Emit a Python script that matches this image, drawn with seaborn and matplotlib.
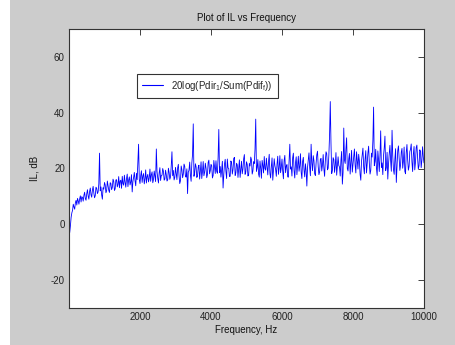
import numpy as np
import pandas as pd
import matplotlib
matplotlib.use("Agg")
import matplotlib.pyplot as plt
from matplotlib.patches import Rectangle
import seaborn as sns

# Frequency grid: 20 Hz steps up to 10 kHz
freq_step = 20
# IL values (dB), one per 20 Hz bin
il_db = [
    -3.0, -0.5, 2.5, 4.1, 5.0, 7.2, 6.2, 5.4, 7.8, 8.6, 6.9, 9.3, 8.4, 7.2, 9.1, 10.2, 8.0, 9.9, 9.6, 8.3,
    10.4, 11.5, 9.2, 8.6, 11.0, 12.4, 10.1, 9.0, 11.8, 13.0, 10.6, 9.7, 12.3, 13.6, 11.2, 9.5, 10.3, 13.3, 12.9, 11.0,
    11.6, 14.5, 25.5, 12.0, 13.4, 10.5, 9.0, 13.1, 12.6, 15.0, 14.1, 11.3, 12.0, 15.5, 13.8, 12.2, 11.4, 14.9, 14.6, 12.4,
    13.2, 16.2, 15.4, 12.1, 12.7, 15.9, 16.0, 13.4, 14.3, 17.1, 13.1, 15.5, 15.8, 12.9, 17.2, 14.6, 14.0, 17.6, 15.1, 13.3,
    16.4, 18.0, 13.5, 15.9, 17.0, 14.1, 15.2, 17.8, 11.6, 15.3, 16.8, 18.6, 15.6, 13.8, 18.3, 16.0, 22.0, 28.7, 16.1, 14.6,
    17.5, 19.2, 15.0, 17.3, 18.2, 14.5, 16.3, 19.5, 14.8, 17.0, 17.9, 15.2, 16.6, 19.8, 15.4, 17.7, 18.8, 14.9, 16.0, 19.1,
    17.2, 15.3, 27.0, 18.9, 16.5, 14.8, 18.4, 20.3, 15.7, 17.5, 17.6, 20.0, 19.0, 15.8, 16.2, 19.4, 17.8, 15.5, 15.9, 20.1,
    18.6, 16.1, 17.0, 21.0, 26.0, 17.4, 19.3, 15.9, 16.8, 20.4, 18.1, 16.0, 20.2, 21.5, 17.4, 14.6, 15.6, 20.9, 19.6, 16.7,
    18.0, 21.6, 20.8, 17.1, 16.9, 19.9, 11.0, 18.7, 19.4, 22.3, 17.7, 15.4, 22.0, 25.0, 36.0, 17.2, 18.5, 21.7, 20.6, 16.8,
    17.3, 20.5, 21.2, 16.2, 19.0, 22.4, 16.4, 18.9, 22.5, 17.4, 18.6, 21.9, 20.1, 16.7, 17.8, 22.2, 23.0, 18.1, 19.2, 21.5,
    21.0, 16.6, 17.5, 22.9, 20.4, 18.2, 22.8, 19.0, 18.3, 24.0, 34.0, 18.5, 20.7, 16.9, 19.5, 22.6, 13.0, 17.8, 21.6, 23.3,
    18.9, 16.4, 23.4, 20.2, 20.0, 17.1, 17.2, 22.7, 22.1, 18.0, 19.6, 23.6, 24.0, 17.5, 18.4, 21.9, 21.3, 16.8, 20.2, 23.1,
    16.8, 19.9, 22.6, 18.1, 19.8, 23.5, 25.0, 17.9, 18.7, 22.4, 21.5, 17.3, 17.6, 21.8, 20.9, 24.1, 23.2, 18.0, 19.1, 22.5,
    21.8, 27.0, 37.7, 19.0, 20.3, 23.2, 18.0, 16.9, 22.7, 20.1, 16.5, 22.9, 21.1, 18.4, 24.3, 20.0, 19.4, 23.7, 20.6, 17.7,
    22.4, 25.1, 18.2, 16.6, 20.8, 23.8, 15.8, 19.3, 23.5, 21.0, 19.7, 17.2, 21.6, 24.4, 17.9, 20.2, 24.6, 18.5, 20.3, 23.4,
    19.0, 16.3, 22.9, 24.7, 18.5, 20.9, 21.4, 17.0, 16.9, 23.0, 28.7, 19.8, 20.6, 17.3, 23.8, 25.5, 19.3, 16.6, 22.0, 24.2,
    17.8, 21.1, 24.4, 19.0, 20.9, 25.3, 18.6, 16.4, 22.5, 24.0, 19.5, 17.0, 21.7, 19.2, 13.7, 20.5, 23.1, 25.6, 20.4, 17.4,
    28.7, 22.0, 19.2, 24.6, 22.8, 18.1, 17.5, 21.9, 24.9, 26.2, 20.7, 17.8, 18.8, 23.3, 23.6, 19.1, 21.3, 25.0, 19.9, 17.2,
    22.6, 26.0, 25.3, 19.5, 20.1, 24.8, 32.0, 44.0, 29.0, 18.2, 19.4, 23.9, 23.2, 18.6, 21.0, 25.7, 17.6, 20.8, 24.2, 21.1,
    20.5, 17.3, 22.9, 26.1, 14.4, 18.5, 34.5, 23.0, 21.8, 26.8, 31.0, 20.0, 19.1, 23.4, 25.4, 18.0, 22.3, 26.5, 18.7, 21.4,
    23.9, 27.0, 21.2, 18.4, 26.0, 23.0, 19.8, 25.1, 22.7, 17.9, 15.8, 22.6, 24.8, 27.3, 20.6, 18.1, 23.3, 26.4, 18.4, 21.7,
    25.6, 28.0, 21.9, 18.0, 19.3, 25.5, 24.1, 30.0, 42.0, 21.0, 22.5, 26.9, 20.2, 17.5, 26.3, 23.1, 18.9, 24.6, 33.5, 20.4,
    22.0, 17.8, 24.7, 27.4, 31.6, 19.2, 20.4, 25.8, 16.2, 21.5, 25.2, 28.3, 22.8, 19.0, 33.7, 24.4, 19.6, 17.9, 23.5, 27.1,
    15.0, 20.9, 26.4, 28.1, 24.0, 19.3, 21.3, 25.9, 27.2, 20.1, 22.6, 27.7, 19.0, 18.1, 25.8, 28.6, 23.1, 19.4, 20.8, 26.0,
    26.9, 28.8, 22.4, 18.9, 25.1, 27.9, 19.5, 22.2, 27.5, 28.4, 23.7, 19.8, 21.0, 26.7, 26.2, 20.3, 22.9, 27.8, 24.1, 22.0,
]
freq_hz = [freq_step * (i + 1) for i in range(len(il_db))]

x_ticks = [2000, 4000, 6000, 8000, 10000]
y_ticks = [-20, 0, 20, 40, 60]
title = "Plot of IL vs Frequency"
xlabel = "Frequency, Hz"
ylabel = "IL, dB"
legend_label = r"20log(Pdir$_1$/Sum(Pdif$_\mathrm{f}$))"

df = pd.DataFrame({"freq": freq_hz, "il": il_db})

sns.set_style("white")
plt.rcParams["font.family"] = ["Liberation Sans", "DejaVu Sans"]
plt.rcParams["mathtext.fontset"] = "custom"
plt.rcParams["mathtext.rm"] = "Liberation Sans"

fig = plt.figure(figsize=(4.56, 3.45), dpi=100)
fig.patch.set_facecolor("#cccccc")
fig.patches.append(Rectangle((0, 0), 10 / 456, 1, transform=fig.transFigure,
                             facecolor="white", edgecolor="none", zorder=-1))

ax = fig.add_axes([69 / 456, 37 / 345, 355 / 456, 279 / 345])
ax.set_facecolor("white")

sns.lineplot(data=df, x="freq", y="il", ax=ax, color="#0000ff", linewidth=0.6,
             label=legend_label)

ax.set_xlim(0, 10000)
ax.set_ylim(-30, 70)
ax.set_xticks(x_ticks)
ax.set_yticks(y_ticks)
ax.set_xticklabels([str(t) for t in x_ticks])
ax.set_yticklabels([str(t) for t in y_ticks])
ax.tick_params(direction="in", length=4, width=0.6, top=True, right=True,
               labelsize=7, colors="#222222", pad=3)
for s in ax.spines.values():
    s.set_visible(True)
    s.set_color("#333333")
    s.set_linewidth(0.8)

ax.set_title(title, fontsize=7, pad=6, color="#111111")
ax.set_xlabel(xlabel, fontsize=7, labelpad=2, color="#111111")
ax.set_ylabel(ylabel, fontsize=7, labelpad=8, color="#111111")

leg = ax.legend(loc="upper left", bbox_to_anchor=(0.1915, 0.8387), fontsize=7,
                frameon=True, fancybox=False, borderpad=0.5, handlelength=2.2,
                borderaxespad=0)
leg.get_frame().set_edgecolor("black")
leg.get_frame().set_linewidth(0.8)
leg.get_frame().set_facecolor("white")
for line in leg.get_lines():
    line.set_linewidth(0.8)

fig.savefig("out.png", dpi=100, facecolor=fig.get_facecolor())
